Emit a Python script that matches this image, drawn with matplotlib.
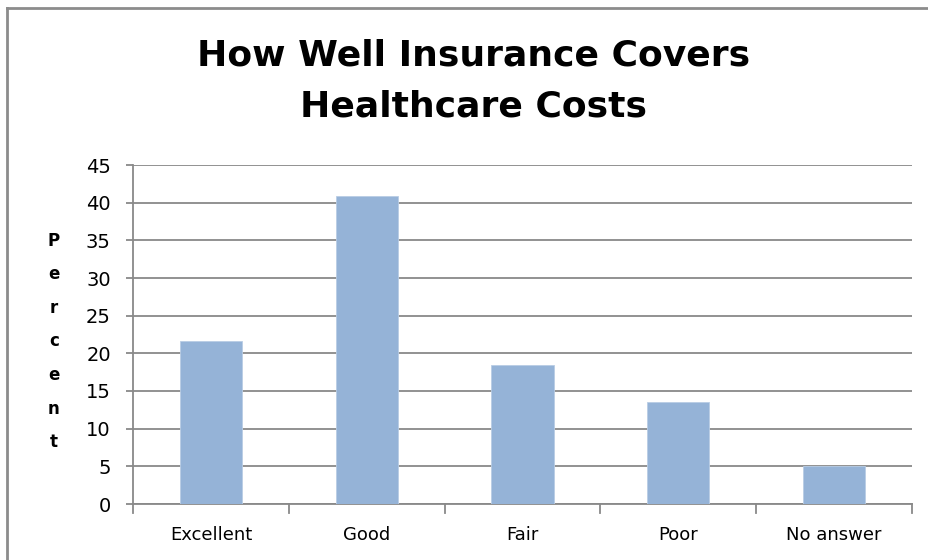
import matplotlib
matplotlib.use("Agg")
import matplotlib.pyplot as plt
from matplotlib.lines import Line2D

CATEGORIES = ["Excellent", "Good", "Fair", "Poor", "No answer"]
PERCENT = [21.6, 40.9, 18.5, 13.6, 5.0]
Y_TICKS = [0, 5, 10, 15, 20, 25, 30, 35, 40, 45]

TITLE = "How Well Insurance Covers\nHealthcare Costs"
Y_LABEL = "Percent"

BAR_COLOR = "#95b3d7"
GRID_COLOR = "#898989"

W, H = 929, 560
fig = plt.figure(figsize=(W / 100, H / 100), dpi=100)

# plot area in pixels: x 133..912, y 165..504
left, right, top, bottom = 133, 912, 165, 504
ax = fig.add_axes([left / W, 1 - bottom / H, (right - left) / W, (bottom - top) / H])

x = list(range(len(CATEGORIES)))
ax.bar(x, PERCENT, width=0.4, color=BAR_COLOR, edgecolor="#b9cde5", linewidth=0.6, zorder=3)

ax.set_xlim(-0.5, len(CATEGORIES) - 0.5)
ax.set_ylim(0, 45)
ax.set_yticks(Y_TICKS)
ax.set_yticklabels([str(t) for t in Y_TICKS], fontsize=14)
ax.set_xticks(x)
ax.set_xticklabels(CATEGORIES, fontsize=13)
ax.grid(True, axis="y", color=GRID_COLOR, linewidth=1.3, zorder=0)
ax.tick_params(axis="y", length=5, width=1.3, color=GRID_COLOR, pad=11)
ax.tick_params(axis="x", length=0, pad=16)

for side in ["top", "right"]:
    ax.spines[side].set_visible(False)
for side in ["left", "bottom"]:
    ax.spines[side].set_color(GRID_COLOR)
    ax.spines[side].set_linewidth(1.3)

# category separator ticks below the x axis
for b in [i - 0.5 for i in range(len(CATEGORIES) + 1)]:
    ax.plot([b, b], [0, -1.2], color=GRID_COLOR, linewidth=1.3, clip_on=False, zorder=4)

# stacked vertical axis label
for i, ch in enumerate(Y_LABEL):
    fig.text(54 / W, 1 - (241 + i * 33.5) / H, ch, fontsize=12, fontweight="bold",
             ha="center", va="center")

fig.text(474 / W, 1 - 81 / H, TITLE, fontsize=26, fontweight="bold",
         ha="center", va="center", linespacing=1.62)

# outer chart frame (left and top edges)
fig.add_artist(Line2D([7 / W, 7 / W], [0, 1 - 8 / H], color="#8c8c8c", linewidth=2,
                      transform=fig.transFigure))
fig.add_artist(Line2D([7 / W, 1], [1 - 8 / H, 1 - 8 / H], color="#8c8c8c", linewidth=2,
                      transform=fig.transFigure))

fig.savefig("out.png", dpi=100)
